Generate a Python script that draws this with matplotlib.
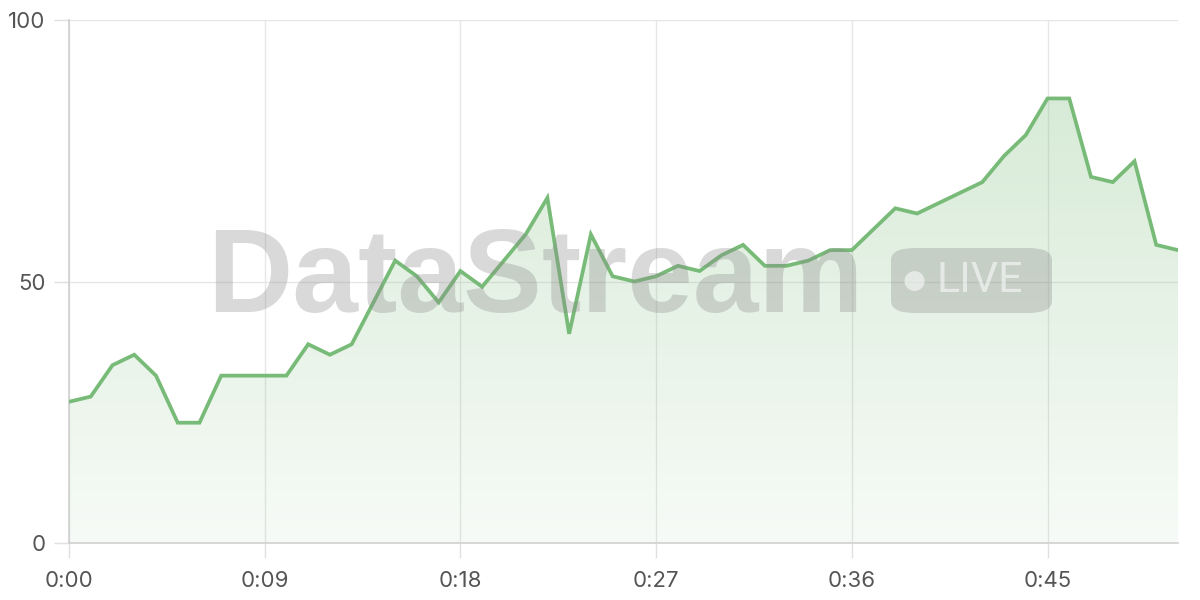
import matplotlib
matplotlib.use("Agg")
import matplotlib.pyplot as plt
import numpy as np
from matplotlib.patches import FancyBboxPatch, Polygon

minutes = list(range(52))
values = [27, 28, 34, 36, 32, 23, 23, 32, 32, 32, 32, 38, 36, 38, 46, 54, 51, 46, 52, 49,
          54, 59, 66, 40, 59, 51, 50, 51, 53, 52, 55, 57, 53, 53, 54, 56, 56, 60, 64, 63,
          65, 67, 69, 74, 78, 85, 85, 70, 69, 73, 57, 56]
x_ticks = [0, 9, 18, 27, 36, 45]
x_tick_labels = ["0:00", "0:09", "0:18", "0:27", "0:36", "0:45"]
y_ticks = [0, 50, 100]
y_tick_labels = ["0", "50", "100"]

plt.rcParams['font.family'] = ['Inter', 'DejaVu Sans']

fig = plt.figure(figsize=(12, 6), dpi=100)
ax = fig.add_axes([69/1200, 1-543/600, (1178-69)/1200, (543-20)/600])
ax.set_xlim(0, 51)
ax.set_ylim(0, 100)

line_color = '#78bb78'

# gradient fill
xs = np.array(minutes, dtype=float)
ys = np.array(values, dtype=float)
verts = [(xs[0], 0)] + list(zip(xs, ys)) + [(xs[-1], 0)]
poly = Polygon(verts, closed=True, facecolor='none', edgecolor='none')
ax.add_patch(poly)
grad = np.linspace(0, 1, 256).reshape(-1, 1)
rgba = np.zeros((256, 1, 4))
rgba[..., 0] = 0.45
rgba[..., 1] = 0.72
rgba[..., 2] = 0.45
rgba[..., 3] = (0.06 + 0.26 * grad)[:, :]
im = ax.imshow(rgba, extent=(0, 51, 0, 100), origin='lower', aspect='auto', zorder=1)
im.set_clip_path(poly)

ax.plot(xs, ys, color=line_color, lw=2.7, zorder=4, solid_joinstyle='miter')

ax.set_xticks(x_ticks)
ax.set_xticklabels(x_tick_labels)
ax.set_yticks(y_ticks)
ax.set_yticklabels(y_tick_labels)
ax.grid(True, color='#e6e6e6', lw=1.0, zorder=0)
ax.set_axisbelow(True)
for s in ['top', 'right']:
    ax.spines[s].set_visible(False)
for s in ['left', 'bottom']:
    ax.spines[s].set_color('#d0d0d0')
    ax.spines[s].set_linewidth(1.2)
ax.tick_params(axis='both', colors='#e0e0e0', length=11, width=1.0, labelsize=16,
               labelcolor='#555555')
ax.tick_params(axis='y', pad=6)
ax.tick_params(axis='x', pad=9)

# watermark
fig.text(207/1200, 1-312/600, "DataStream", fontsize=85, fontweight='bold',
         family=['Liberation Sans', 'DejaVu Sans'], color='#8a8a8a', alpha=0.32,
         ha='left', va='baseline', zorder=3)
badge = FancyBboxPatch((891/1200, 1-313/600), (1052-891)/1200, (313-248)/600,
                       boxstyle="round,pad=0,rounding_size=0.02",
                       transform=fig.transFigure, facecolor='#8a8a8a', alpha=0.32,
                       edgecolor='none', zorder=3)
fig.patches.append(badge)
fig.text(914/1200, 1-281/600, "●", fontsize=19, color='white', alpha=0.55,
         ha='center', va='center', family=['DejaVu Sans'])
fig.text(937/1200, 1-281/600, "LIVE", fontsize=31, color='white', alpha=0.55,
         ha='left', va='center', family=['Roboto', 'DejaVu Sans'])

fig.savefig('out.png', dpi=100)
